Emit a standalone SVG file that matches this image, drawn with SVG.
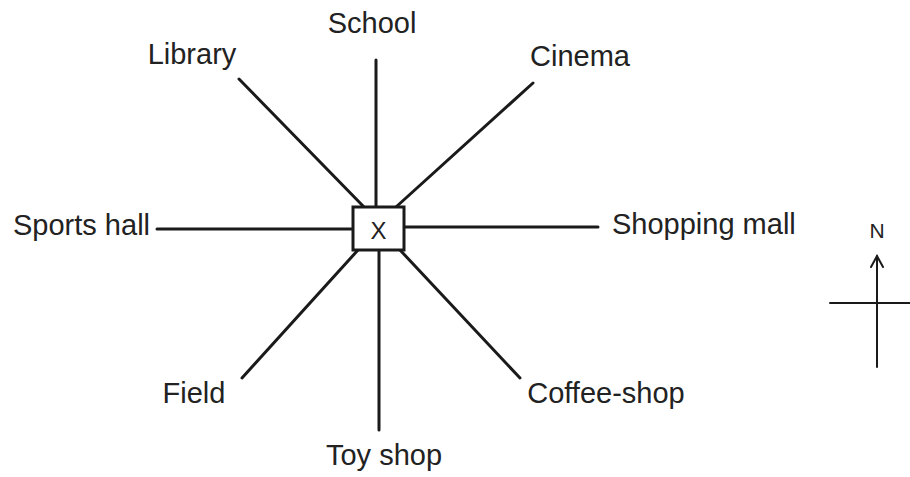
<svg xmlns="http://www.w3.org/2000/svg" width="910" height="477" viewBox="0 0 910 477">
<style>
.t{font-family:"Liberation Sans",Arial,sans-serif;font-size:29px;fill:#222}
.l{stroke:#1a1a1a;stroke-width:3;fill:none;stroke-linecap:round}
</style>
<rect width="910" height="477" fill="#fff"/>
<g id="connectors">
<line class="l" x1="376" y1="60" x2="376" y2="207"/>
<line class="l" x1="239" y1="79" x2="364" y2="207"/>
<line class="l" x1="533" y1="83" x2="396" y2="207"/>
<line class="l" x1="157" y1="229" x2="353" y2="229"/>
<line class="l" x1="404" y1="227" x2="598" y2="227"/>
<line class="l" x1="242" y1="378" x2="358" y2="250"/>
<line class="l" x1="379" y1="250" x2="379" y2="430"/>
<line class="l" x1="400" y1="250" x2="520" y2="378"/>
</g>
<g id="x"><rect x="353" y="207" width="51" height="43" fill="#fff" stroke="#1a1a1a" stroke-width="3"/><text class="t" x="378.5" y="239" text-anchor="middle" style="font-size:24px">X</text></g>
<g id="school"><text class="t" x="372" y="33" text-anchor="middle">School</text></g>
<g id="library"><text class="t" x="192" y="64" text-anchor="middle">Library</text></g>
<g id="cinema"><text class="t" x="580" y="66" text-anchor="middle">Cinema</text></g>
<g id="sports"><text class="t" x="13" y="235">Sports hall</text></g>
<g id="mall"><text class="t" x="612" y="234">Shopping mall</text></g>
<g id="field"><text class="t" x="194" y="403" text-anchor="middle">Field</text></g>
<g id="coffee"><text class="t" x="606" y="403" text-anchor="middle">Coffee-shop</text></g>
<g id="toy"><text class="t" x="384" y="465" text-anchor="middle">Toy shop</text></g>
<g id="compass">
<text class="t" x="877" y="238" text-anchor="middle" style="font-size:21px">N</text>
<line class="l" x1="877" y1="256" x2="877" y2="367" style="stroke-width:2"/>
<path class="l" d="M871 267 L877 256 L883 267" style="stroke-width:2"/>
<line class="l" x1="830" y1="303" x2="910" y2="303" style="stroke-width:2"/>
</g>
</svg>
